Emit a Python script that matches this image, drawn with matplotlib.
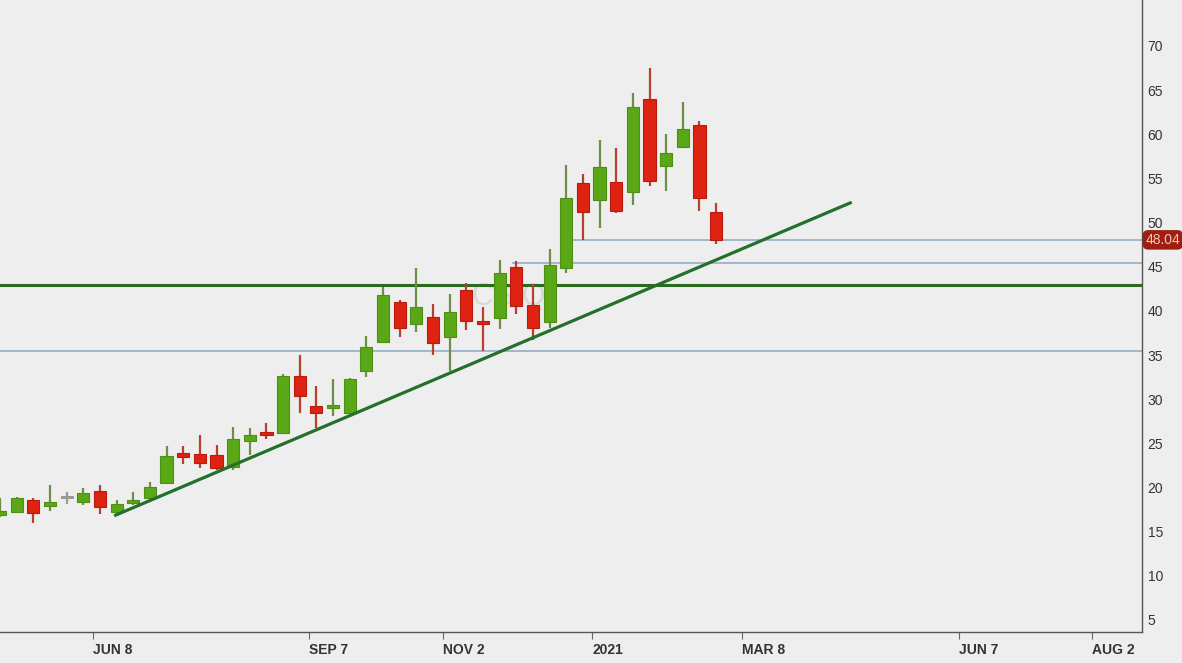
import pandas as pd
import numpy as np
import matplotlib
matplotlib.use("Agg")
import matplotlib.pyplot as plt
import matplotlib.dates as mdates

# ==============================
# CSIQ weekly candles, Apr 2020 - Feb 2021
# ==============================

semanas = pd.date_range(start="2020-04-27", periods=44, freq="7D")

apertura = [16.9, 17.2, 18.6, 17.9, 18.9, 18.4, 19.6, 17.2, 18.2, 18.8,
            20.5, 23.9, 23.8, 23.7, 22.3, 25.3, 26.3, 26.2, 32.6, 29.2,
            29.0, 28.4, 33.2, 36.5, 41.0, 38.5, 39.3, 37.0, 42.4, 38.8,
            39.2, 45.0, 40.7, 38.7, 44.8, 54.5, 52.6, 54.6, 53.5, 64.0,
            56.4, 58.5, 61.0, 51.2]
maximo = [18.8, 18.9, 18.8, 20.3, 19.5, 19.9, 20.3, 18.6, 19.5, 20.6,
          24.7, 24.7, 25.9, 24.8, 26.8, 26.7, 27.3, 32.9, 35.0, 31.5,
          32.3, 32.4, 37.2, 42.7, 41.2, 44.9, 40.8, 41.9, 43.2, 40.4,
          45.8, 45.6, 43.0, 47.0, 56.5, 55.5, 59.4, 58.4, 64.7, 67.5,
          60.0, 63.7, 61.5, 52.2]
minimo = [16.7, 17.1, 16.0, 17.3, 18.1, 18.0, 17.0, 17.1, 18.0, 18.7,
          20.4, 22.7, 22.2, 22.0, 22.0, 23.7, 25.5, 26.1, 28.4, 26.7,
          28.1, 28.3, 32.5, 36.4, 37.0, 37.6, 35.0, 33.2, 37.8, 35.5,
          38.0, 39.6, 36.7, 38.1, 44.3, 48.0, 49.4, 51.1, 52.0, 54.1,
          53.6, 58.4, 51.3, 47.6]
cierre = [17.3, 18.8, 17.1, 18.4, 18.9, 19.4, 17.8, 18.1, 18.6, 20.1,
          23.6, 23.5, 22.8, 22.2, 25.5, 26.0, 26.0, 32.6, 30.4, 28.4,
          29.3, 32.3, 35.9, 41.8, 38.1, 40.4, 36.4, 39.9, 38.9, 38.5,
          44.3, 40.6, 38.1, 45.2, 52.8, 51.2, 56.3, 51.3, 63.1, 54.7,
          57.9, 60.6, 52.8, 48.04]

ultimo_precio = 48.04
soporte_1 = 45.4
resistencia = 42.9
soporte_2 = 35.45

# trend line anchors
tendencia_fechas = ["2020-06-17", "2021-04-23"]
tendencia_valores = [16.8, 52.3]

ticks_fechas = ["2020-06-08", "2020-09-07", "2020-11-02", "2021-01-04",
                "2021-03-08", "2021-06-07", "2021-08-02"]
ticks_texto = ["JUN 8", "SEP 7", "NOV 2", "2021", "MAR 8", "JUN 7", "AUG 2"]

fondo = "#eeeeee"
verde = "#5aa818"
verde_borde = "#4c8f12"
rojo = "#de2312"
rojo_borde = "#b81c0e"

plt.rcParams["font.family"] = ["Liberation Sans", "DejaVu Sans"]

fig = plt.figure(figsize=(11.82, 6.63), dpi=100, facecolor=fondo)
ax = fig.add_axes([0.0, 0.0468, 1142 / 1182, 1 - 0.0468])
ax.set_facecolor(fondo)

x = mdates.date2num(semanas) + 3  # candles sit mid-week

df = pd.DataFrame({"x": x, "o": apertura, "h": maximo, "l": minimo, "c": cierre})

# watermark
ax.text(mdates.date2num(pd.Timestamp("2020-11-30")), 41.6, "CSIQ", fontsize=22,
        color="#d8d8d8", ha="center", va="center", zorder=0)

# horizontal levels
ax.axhline(resistencia, color="#2b6b1f", lw=2.2, zorder=1)
ax.axhline(soporte_2, color="#8fa7c2", lw=1.1, zorder=1)
ax.hlines(soporte_1, mdates.date2num(pd.Timestamp("2020-12-01")),
          mdates.date2num(pd.Timestamp("2021-09-30")), color="#8fa7c2", lw=1.1, zorder=1)
ax.hlines(ultimo_precio, mdates.date2num(pd.Timestamp("2020-12-27")),
          mdates.date2num(pd.Timestamp("2021-09-30")), color="#8fa7c2", lw=1.1, zorder=1)

# candles
for _, r in df.iterrows():
    if r["c"] > r["o"]:
        cuerpo, borde, mecha = verde, verde_borde, "#6d8f45"
    elif r["c"] < r["o"]:
        cuerpo, borde, mecha = rojo, rojo_borde, "#b5402e"
    else:
        cuerpo, borde, mecha = "#9a9a9a", "#9a9a9a", "#9a9a9a"
    ax.vlines(r["x"], r["l"], r["h"], color=mecha, lw=1.6, zorder=2)
    alto = max(abs(r["c"] - r["o"]), 0.2)
    base = min(r["o"], r["c"]) if abs(r["c"] - r["o"]) >= 0.2 else (r["o"] + r["c"]) / 2 - 0.1
    ax.bar(r["x"], alto, bottom=base, width=5.1, color=cuerpo,
           edgecolor=borde, linewidth=0.8, zorder=3)

# trend line
ax.plot(mdates.date2num(pd.to_datetime(tendencia_fechas)), tendencia_valores,
        color="#23702a", lw=2.3, zorder=4, solid_capstyle="butt")

# axes
ax.set_xlim(mdates.date2num(pd.Timestamp("2020-04-30")),
            mdates.date2num(pd.Timestamp("2021-08-23")))
ax.set_ylim(3.64, 75.2)

ax.set_xticks(mdates.date2num(pd.to_datetime(ticks_fechas)))
ax.set_xticklabels(ticks_texto, fontsize=10, fontweight="bold", color="#333333", ha="left")
ax.tick_params(axis="x", length=5, color="#666666", pad=3)

ax.yaxis.tick_right()
ax.set_yticks(np.arange(5, 75, 5))
ax.tick_params(axis="y", length=0, pad=4, labelsize=10, labelcolor="#333333")

for lado in ["top", "left"]:
    ax.spines[lado].set_visible(False)
for lado in ["bottom", "right"]:
    ax.spines[lado].set_color("#555555")
    ax.spines[lado].set_linewidth(1.0)

# last price tag
ax.text(1.003, ultimo_precio, f"{ultimo_precio:.2f}", transform=ax.get_yaxis_transform(),
        fontsize=10, color="#f0c8c0", ha="left", va="center", zorder=6, clip_on=False,
        bbox=dict(boxstyle="round,pad=0.2,rounding_size=0.4", fc="#9e1e10", ec="none"))

plt.savefig("out.png", dpi=100, facecolor=fondo)
